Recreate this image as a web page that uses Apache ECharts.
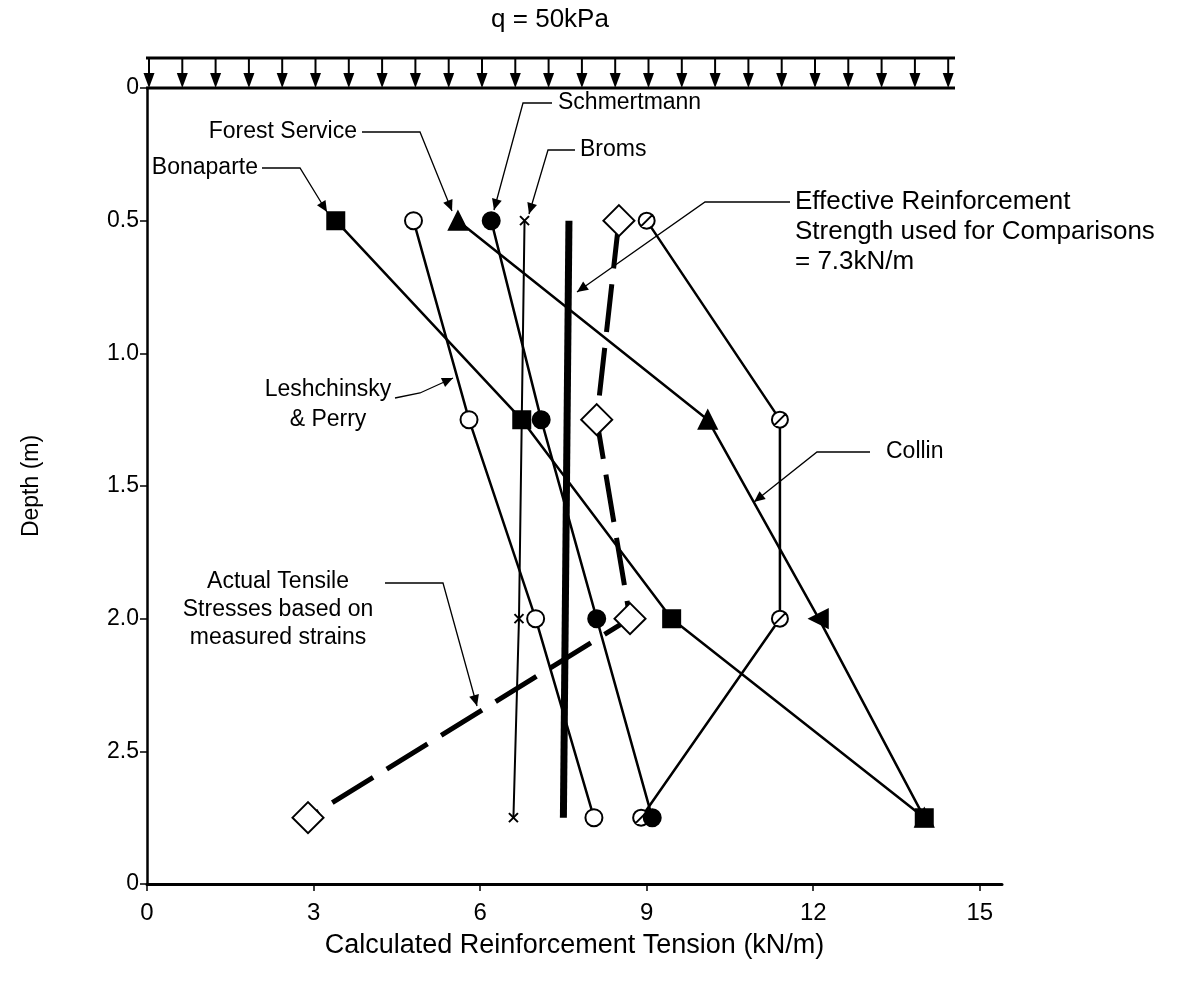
<!DOCTYPE html>
<html><head><meta charset="utf-8">
<script src="https://cdn.jsdelivr.net/npm/echarts@6/dist/echarts.min.js"></script>
<style>html,body{margin:0;padding:0;background:#fff}#c{width:1192px;height:985px}</style>
</head><body><div id="c"></div>
<script>
// ---- data ----
const depths = [0.5, 1.25, 2.0, 2.75];
const bonaparte = [3.4, 6.75, 9.45, 14.0];
const leshchinsky = [4.8, 5.8, 7.0, 8.05];
const forestService = [5.6, 10.1, 12.1, 14.0];
const schmertmann = [6.2, 7.1, 8.1, 9.1];
const bromsDepths = [0.5, 2.0, 2.75];
const broms = [6.8, 6.7, 6.6];
const actual = [8.5, 8.1, 8.7, 2.9];
const collin = [9.0, 11.4, 11.4, 8.9];
const effectiveDepths = [0.5, 2.75];
const effective = [7.6, 7.5];
const xTicks = [0, 3, 6, 9, 12, 15];
const yTicks = [0, 0.5, 1.0, 1.5, 2.0, 2.5, 3.0];
const yTickLabels = ['0', '0.5', '1.0', '1.5', '2.0', '2.5', '0'];

const FONT = '"Liberation Sans", Arial, Helvetica, sans-serif';
const pairs = (xs, ys) => xs.map((x, i) => [x, ys[i]]);

const chart = echarts.init(document.getElementById('c'));

const circleSlash = 'path://M0,-10A10,10,0,1,1,0,10A10,10,0,1,1,0,-10ZM-7.5,7.5L7.5,-7.5';
const cross = 'path://M-5,-5L5,5M5,-5L-5,5';

function lineS(data, opts) {
  return Object.assign({
    type: 'line', data: data, showSymbol: false, symbol: 'none', z: 2,
    lineStyle: { color: '#000', width: 2.5 }, animation: false, silent: true
  }, opts || {});
}
function dotS(data, symbol, size, fill, z) {
  return {
    type: 'scatter', data: data, symbol: symbol, symbolSize: size, z: z || 3,
    itemStyle: { color: fill, borderColor: '#000', borderWidth: 2, opacity: 1 },
    animation: false, silent: true
  };
}

const forestData = pairs(forestService, depths).map((p, i) => ({ value: p, symbolRotate: i === 2 ? 90 : 0 }));

const option = {
  backgroundColor: '#fff',
  animation: false,
  grid: { left: 147, top: 88, right: 190, bottom: 101, containLabel: false },
  xAxis: {
    type: 'value', min: 0, max: 15.4, position: 'bottom',
    axisLine: { onZero: false, lineStyle: { color: '#000', width: 3 } },
    axisTick: { show: true, customValues: xTicks, length: 7, lineStyle: { color: '#000', width: 1.5 } },
    axisLabel: { customValues: xTicks, color: '#000', fontSize: 24, fontFamily: FONT, margin: 17 },
    splitLine: { show: false },
    name: 'Calculated Reinforcement Tension (kN/m)', nameLocation: 'middle', nameGap: 48,
    nameTextStyle: { color: '#000', fontSize: 27, fontFamily: FONT }
  },
  yAxis: {
    type: 'value', inverse: true, min: 0, max: 3, interval: 0.5,
    axisLine: { onZero: false, lineStyle: { color: '#000', width: 2.5 } },
    axisTick: { show: true, length: 7, lineStyle: { color: '#000', width: 1.5 } },
    axisLabel: {
      color: '#000', fontSize: 23, fontFamily: FONT, margin: 8,
      formatter: v => yTickLabels[Math.round(v * 2)]
    },
    splitLine: { show: false },
    name: 'Depth (m)', nameLocation: 'middle', nameGap: 104, nameRotate: 90,
    nameTextStyle: { color: '#000', fontSize: 23, fontFamily: FONT }
  },
  series: [
    lineS(pairs(effective, effectiveDepths), { lineStyle: { color: '#000', width: 7 } }),
    lineS(pairs(bonaparte, depths)),
    lineS(pairs(leshchinsky, depths)),
    lineS(pairs(forestService, depths)),
    lineS(pairs(schmertmann, depths)),
    lineS(pairs(broms, bromsDepths), { lineStyle: { color: '#000', width: 2 } }),
    lineS(pairs(collin, depths)),
    lineS(pairs(actual, depths), { lineStyle: { color: '#000', width: 5, type: [48, 16] } }),
    dotS(forestData, 'triangle', 18, '#000'),
    dotS(pairs(bonaparte, depths), 'rect', 17, '#000', 4),
    dotS(pairs(leshchinsky, depths), 'circle', 17, '#fff'),
    dotS(pairs(broms, bromsDepths), cross, 9, 'none'),
    dotS(pairs(actual, depths), 'diamond', 31, '#fff'),
    dotS(pairs(collin, depths), circleSlash, 16, '#fff'),
    dotS(pairs(schmertmann, depths), 'circle', 17, '#000', 4)
  ]
};
chart.setOption(option);

// ---- annotations ----
const g = [];
function txt(s, x, y, align, size) {
  g.push({ type: 'text', z: 10, style: { text: s, x: x, y: y, fill: '#000', font: (size || 23) + 'px ' + FONT,
    textAlign: align || 'left', textVerticalAlign: 'middle' } });
}
function arrow(pts) {
  g.push({ type: 'polyline', z: 10, shape: { points: pts }, style: { stroke: '#000', lineWidth: 1.3, fill: null } });
  const a = pts[pts.length - 2], b = pts[pts.length - 1];
  const ang = Math.atan2(b[1] - a[1], b[0] - a[0]);
  const L = 11, W = 5;
  const bx = b[0] - L * Math.cos(ang), by = b[1] - L * Math.sin(ang);
  const px = -Math.sin(ang) * W, py = Math.cos(ang) * W;
  g.push({ type: 'polygon', z: 10, shape: { points: [[b[0], b[1]], [bx + px, by + py], [bx - px, by - py]] },
    style: { fill: '#000' } });
}
// load diagram
const y0 = chart.convertToPixel({ yAxisIndex: 0 }, 0);
const xl = chart.convertToPixel({ xAxisIndex: 0 }, 0);
const topY = y0 - 30, rightX = 955;
g.push({ type: 'line', z: 10, shape: { x1: xl - 1, y1: topY, x2: rightX, y2: topY }, style: { stroke: '#000', lineWidth: 3 } });
g.push({ type: 'line', z: 10, shape: { x1: xl - 1, y1: y0, x2: rightX, y2: y0 }, style: { stroke: '#000', lineWidth: 3 } });
for (let i = 0; i < 25; i++) {
  const ax = xl + 2 + i * 33.3;
  g.push({ type: 'line', z: 10, shape: { x1: ax, y1: topY, x2: ax, y2: y0 - 12 }, style: { stroke: '#000', lineWidth: 2 } });
  g.push({ type: 'polygon', z: 10, shape: { points: [[ax - 5.5, y0 - 15], [ax + 5.5, y0 - 15], [ax, y0]] }, style: { fill: '#000' } });
}
txt('q = 50kPa', 550, 20, 'center', 26);

txt('Forest Service', 357, 132, 'right');
arrow([[362, 132], [420, 132], [452, 211]]);
txt('Schmertmann', 558, 103, 'left');
arrow([[552, 103], [523, 103], [494, 210]]);
txt('Bonaparte', 258, 168, 'right');
arrow([[262, 168], [300, 168], [327, 212]]);
txt('Broms', 580, 150, 'left');
arrow([[575, 150], [548, 150], [529, 214]]);
txt('Effective Reinforcement', 795, 202, 'left', 26);
txt('Strength used for Comparisons', 795, 232, 'left', 26);
txt('= 7.3kN/m', 795, 262, 'left', 26);
arrow([[790, 202], [705, 202], [577, 292]]);
txt('Leshchinsky', 328, 390, 'center');
txt('& Perry', 328, 420, 'center');
arrow([[395, 398], [420, 393], [453, 378]]);
txt('Collin', 886, 452, 'left');
arrow([[870, 452], [817, 452], [754, 502]]);
txt('Actual Tensile', 278, 582, 'center');
txt('Stresses based on', 278, 610, 'center');
txt('measured strains', 278, 638, 'center');
arrow([[385, 583], [443, 583], [477, 706]]);

chart.setOption({ graphic: g });
</script></body></html>
